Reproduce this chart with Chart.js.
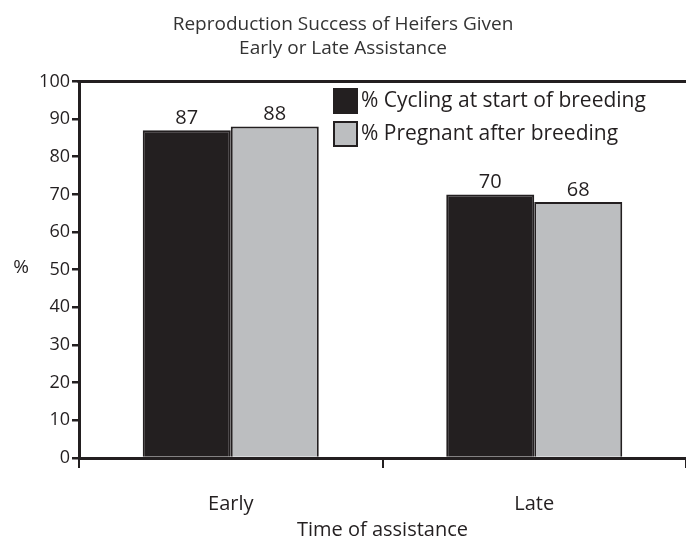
<!DOCTYPE html>
<html>
<head>
<meta charset="utf-8">
<script src="https://cdn.jsdelivr.net/npm/chart.js@4.4.0/dist/chart.umd.min.js"></script>
<style>
  html, body { margin: 0; padding: 0; background: #fff; }
  #wrap { width: 686px; height: 542px; }
</style>
</head>
<body>
<div id="wrap"><canvas id="chart" width="686" height="542"></canvas></div>
<script>
// donnees du graphique
const categories = ['Early', 'Late'];
const seriesNames = ['% Cycling at start of breeding', '% Pregnant after breeding'];
const cyclingValues = [87, 70];
const pregnantValues = [88, 68];
const yTicks = [0, 10, 20, 30, 40, 50, 60, 70, 80, 90, 100];

const INK = '#231f20';
const FONT = "'Open Sans', 'DejaVu Sans', sans-serif";

// Etiquettes au-dessus des barres + legende + ligne du haut
const extrasPlugin = {
    id: 'extras',
    afterDatasetsDraw(chart) {
        const ctx = chart.ctx;
        const area = chart.chartArea;
        ctx.save();

        // ligne en haut de la zone
        ctx.strokeStyle = INK;
        ctx.lineWidth = 3;
        ctx.beginPath();
        ctx.moveTo(area.left - 1.5, area.top);
        ctx.lineTo(area.right, area.top);
        ctx.stroke();

        // valeurs
        ctx.fillStyle = INK;
        ctx.font = '20px ' + FONT;
        ctx.textAlign = 'center';
        ctx.textBaseline = 'bottom';
        chart.data.datasets.forEach((ds, i) => {
            chart.getDatasetMeta(i).data.forEach((bar, j) => {
                ctx.fillText(ds.data[j], bar.x, bar.y - 2);
            });
        });

        // legende dans la zone
        ctx.font = '21px ' + FONT;
        ctx.textAlign = 'left';
        ctx.textBaseline = 'middle';
        chart.data.datasets.forEach((ds, i) => {
            const bx = 334, by = 89 + i * 33;
            ctx.fillStyle = ds.backgroundColor;
            ctx.fillRect(bx, by, 23, 24);
            ctx.strokeStyle = INK;
            ctx.lineWidth = 2;
            ctx.strokeRect(bx, by, 23, 24);
            ctx.fillStyle = INK;
            ctx.fillText(ds.label, bx + 27, by + 12);
        });

        // titre de l'axe y (non tourne)
        ctx.font = '19px ' + FONT;
        ctx.textAlign = 'center';
        ctx.fillText('%', 21, 268);
        ctx.restore();
    }
};

new Chart(document.getElementById('chart'), {
    type: 'bar',
    data: {
        labels: categories,
        datasets: [{
            label: seriesNames[0],
            data: cyclingValues,
            backgroundColor: INK,
            borderColor: INK,
            borderWidth: 2
        }, {
            label: seriesNames[1],
            data: pregnantValues,
            backgroundColor: '#bcbec0',
            borderColor: INK,
            borderWidth: 2
        }]
    },
    options: {
        responsive: false,
        animation: false,
        layout: { padding: { left: 0, right: 0, top: 0, bottom: 0 } },
        plugins: {
            legend: { display: false },
            tooltip: { enabled: false },
            title: {
                display: true,
                text: ['Reproduction Success of Heifers Given', 'Early or Late Assistance'],
                color: '#333',
                font: { family: FONT, size: 19, weight: 'normal', lineHeight: 1.3 },
                padding: { top: 12, bottom: 20 }
            }
        },
        datasets: {
            bar: { categoryPercentage: 0.58, barPercentage: 1 }
        },
        scales: {
            x: {
                grid: { drawOnChartArea: false, drawTicks: true, tickLength: 10, color: INK, lineWidth: 2, offset: true },
                border: { display: true, color: INK, width: 3 },
                ticks: { color: INK, padding: 24, font: { family: FONT, size: 20 } },
                title: { display: true, text: 'Time of assistance', color: INK, padding: { top: 0, bottom: 0 }, font: { family: FONT, size: 20 } },
                afterFit(scale) { scale.height = 84; }
            },
            y: {
                min: 0,
                max: 100,
                afterBuildTicks(scale) { scale.ticks = yTicks.map(v => ({ value: v })); },
                grid: { drawOnChartArea: false, drawTicks: true, tickLength: 7, color: INK, lineWidth: 2.5 },
                border: { display: true, color: INK, width: 3 },
                ticks: { color: INK, padding: 2, font: { family: FONT, size: 18 } },
                afterFit(scale) { scale.width = 79; }
            }
        }
    },
    plugins: [extrasPlugin]
});
</script>
</body>
</html>
